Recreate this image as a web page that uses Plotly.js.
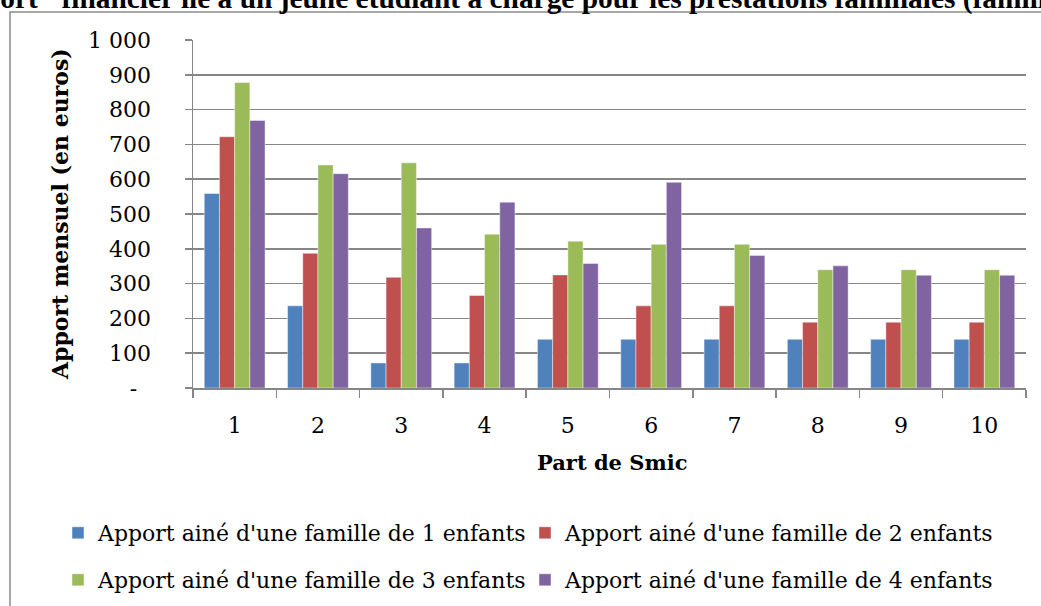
<!DOCTYPE html>
<html>
<head>
<meta charset="utf-8">
<script src="https://cdn.plot.ly/plotly-3.0.1.min.js"></script>
<style>html,body{margin:0;padding:0;background:#fff;}#chart{width:1041px;height:606px;}</style>
</head>
<body>
<div id="chart"></div>
<script>
const categories = ["1","2","3","4","5","6","7","8","9","10"];
const famille1 = [559, 236, 72, 72, 140, 140, 140, 140, 140, 140];
const famille2 = [722, 387, 318, 266, 325, 236, 236, 189, 189, 189];
const famille3 = [878, 641, 647, 442, 422, 413, 413, 340, 340, 340];
const famille4 = [769, 616, 460, 534, 358, 591, 381, 351, 324, 324];
const seriesNames = [
  "Apport ainé d'une famille de 1 enfants",
  "Apport ainé d'une famille de 2 enfants",
  "Apport ainé d'une famille de 3 enfants",
  "Apport ainé d'une famille de 4 enfants"
];
const colors = ["#4F81BD", "#C0504D", "#9BBB59", "#8064A2"];
const yTickVals = [0,100,200,300,400,500,600,700,800,900,1000];
const yTickText = ["-\u00a0\u00a0","100","200","300","400","500","600","700","800","900","1 000"];
const titleText = "\"Apport\" financier lié à un jeune étudiant à charge pour les prestations familiales (famille)";

const FONT = "DejaVu Serif, serif";
const TFONT = "Liberation Serif, Times New Roman, serif";
const seriesData = [famille1, famille2, famille3, famille4];
const legendIds = ["legend", "legend2", "legend3", "legend4"];
const traces = seriesData.map((vals, i) => ({
  type: "bar",
  x: categories,
  y: vals,
  name: seriesNames[i],
  marker: {color: colors[i], line: {color: "rgba(255,255,255,0.55)", width: 0.8}},
  legend: legendIds[i],
  hoverinfo: "skip"
}));

const W = 1041, H = 606, L = 193, R = 15, T = 40, B = 218;
const pw = W - L - R, ph = H - T - B;
const px = v => (v - L) / pw;
const py = v => (H - B - v) / ph;
const cy = v => 1 - v / H;

const legendBase = {
  orientation: "h", xref: "paper", yref: "container", xanchor: "left", yanchor: "middle",
  font: {family: FONT, size: 22, color: "#000"},
  bgcolor: "rgba(0,0,0,0)", itemclick: false, itemdoubleclick: false
};
// legend slots: [left px, centre y px]
const legendSlots = [[58, 533], [525, 533], [58, 580], [525, 580]];

const layout = {
  width: W, height: H,
  margin: {l: L, r: R, t: T, b: B, pad: 0},
  paper_bgcolor: "#fff", plot_bgcolor: "#fff",
  font: {family: FONT, color: "#000", size: 22},
  barmode: "group",
  bargap: 0.27,
  bargroupgap: 0,
  xaxis: {
    type: "category",
    tickson: "boundaries",
    ticks: "outside", ticklen: 8, tickcolor: "#868686", tickwidth: 1.5,
    showline: true, linecolor: "#868686", linewidth: 1.5,
    showgrid: false, zeroline: false,
    tickfont: {family: FONT, size: 22, color: "#000"},
    ticklabelstandoff: 17,
    fixedrange: true, automargin: false
  },
  yaxis: {
    range: [0, 1000],
    tickmode: "array", tickvals: yTickVals, ticktext: yTickText,
    ticks: "outside", ticklen: 7, tickcolor: "#868686", tickwidth: 1.5,
    showline: true, linecolor: "#868686", linewidth: 1.5,
    showgrid: true, gridcolor: "#868686", gridwidth: 1.5,
    zeroline: false,
    tickfont: {family: FONT, size: 22, color: "#000"},
    ticklabelstandoff: 29,
    fixedrange: true, automargin: false
  },
  showlegend: true,
  annotations: [
    {text: "<b>" + titleText + "</b>", xref: "paper", yref: "paper",
     x: px(-72), y: py(-2), xanchor: "left", yanchor: "middle", showarrow: false,
     font: {family: TFONT, size: 29.4, color: "#000"}},
    {text: "<b>Apport mensuel (en euros)</b>", xref: "paper", yref: "paper",
     x: px(60), y: 0.5, textangle: -90, showarrow: false,
     font: {family: FONT, size: 22, color: "#000"}, xanchor: "center", yanchor: "middle"},
    {text: "<b>Part de Smic</b>", xref: "paper", yref: "paper",
     x: px(612), y: py(462), showarrow: false,
     font: {family: FONT, size: 21, color: "#000"}, xanchor: "center", yanchor: "middle"}
  ],
  shapes: [
    {type: "rect", xref: "paper", yref: "paper",
     x0: px(10), x1: px(1050), y0: py(620), y1: py(12),
     line: {color: "#8c8c8c", width: 1.5}, fillcolor: "rgba(0,0,0,0)", layer: "above"}
  ]
};
legendIds.forEach((id, i) => {
  layout[id] = Object.assign({}, legendBase, {x: px(legendSlots[i][0]), y: cy(legendSlots[i][1])});
});

Plotly.newPlot("chart", traces, layout, {displayModeBar: false, staticPlot: true});
</script>
</body>
</html>
